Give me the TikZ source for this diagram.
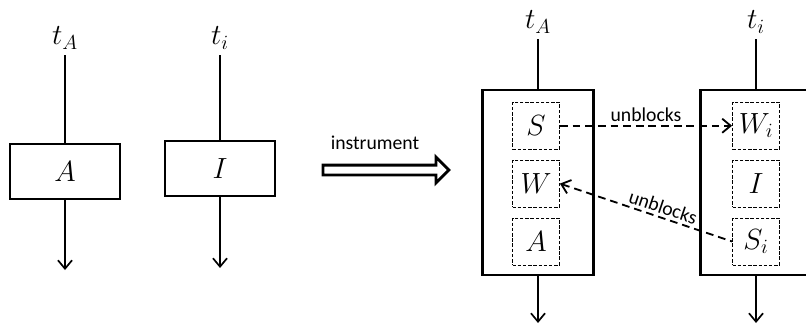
\documentclass[tikz,border=0pt]{standalone}
\usepackage{fontspec}
\newfontfamily\calfont{Carlito}
\usetikzlibrary{arrows.meta,positioning,shapes.arrows}

\begin{document}
\begin{tikzpicture}[
  wire/.style={line width=1.2pt},
  outwire/.style={wire,-{Straight Barb[length=6pt,width=10pt]}},
  lbl/.style={font=\huge, inner sep=4pt},
  blk/.style={draw, line width=2pt, minimum width=2.75cm, minimum height=1.375cm, font=\huge},
  bigblk/.style={draw, line width=2pt, minimum width=2.775cm, minimum height=4.625cm},
  part/.style={draw, line width=0.6pt, dash pattern=on 2.5pt off 1.2pt, minimum size=1.175cm, inner sep=0pt, font=\huge},
  flow/.style={line width=1.3pt, dash pattern=on 5.5pt off 3.5pt},
  note/.style={font=\calfont\fontsize{14}{16}\selectfont, inner sep=2pt},
  node distance=0.25cm
]
\useasboundingbox (0,0) rectangle (20.15,8.25);
\clip (0,0) rectangle (20.15,8.25);

% tasks before
\node (boxA) [blk] at (1.625,3.9625) {$A$};
\node (boxI) [blk] at (5.5,4.0375) {$I$};
\node (tA) [lbl] at (1.625,7.3) {$t_A$};
\node (tI) [lbl] at (5.5,7.3) {$t_i$};
\coordinate (endA) at (1.625,1.5);
\coordinate (endI) at (5.5,1.55);

\draw[wire] (tA) -- (boxA);
\draw[wire] (tI) -- (boxI);
\draw[outwire] (boxA) -- (endA);
\draw[outwire] (boxI) -- (endI);

% instrument step
\node (instr) [single arrow, draw, line width=2pt, minimum height=3.15cm, minimum width=0.575cm,
  single arrow head extend=0.2cm, inner sep=0.0875cm] at (9.5875,4.0) {};
\node (instrlbl) [note] at (9.375,4.675) {instrument};

% tasks after
\node (blkA) [bigblk] at (13.45,3.6875) {};
\node (blkI) [bigblk] at (18.9,3.6875) {};
\node (W) [part] at (13.4,3.66) {$W$};
\node (S) [part, above=of W] {$S$};
\node (A) [part, below=of W] {$A$};
\node (I) [part] at (18.9,3.66) {$I$};
\node (Wi) [part, above=of I] {$W_i$};
\node (Si) [part, below=of I] {$S_i$};
\node (tA2) [lbl] at (13.45,7.7) {$t_A$};
\node (tI2) [lbl] at (18.9,7.7) {$t_i$};
\coordinate (endA2) at (13.45,0.175);
\coordinate (endI2) at (18.9,0.175);

\draw[wire] (tA2) -- (blkA);
\draw[wire] (tI2) -- (blkI);
\draw[outwire] (blkA) -- (endA2);
\draw[outwire] (blkI) -- (endI2);

\draw[flow,-{Straight Barb[length=6pt,width=10pt]}] (S.east) -- node[note, above] {unblocks} (Wi.west);
\draw[flow,{Straight Barb[length=6pt,width=10pt]}-] (W.east) -- node[note, sloped, above, pos=0.58] {unblocks} (Si.west);
\end{tikzpicture}
\end{document}
